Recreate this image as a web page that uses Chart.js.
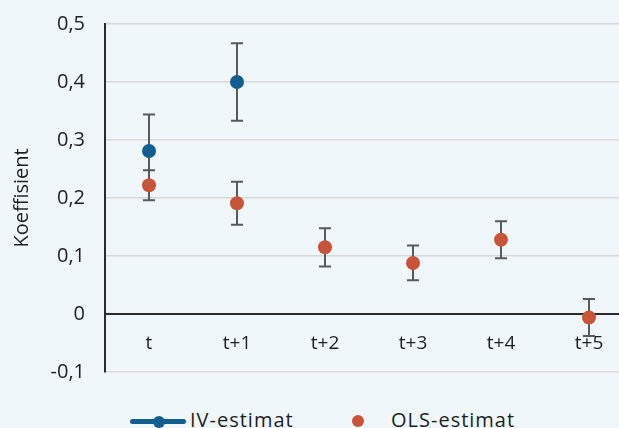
<!DOCTYPE html>
<html>
<head>
<meta charset="utf-8">
<script src="https://cdn.jsdelivr.net/npm/chart.js@4"></script>
<style>
  html, body { margin: 0; padding: 0; overflow: hidden; background: #f0f7fb; }
  #wrap { position: relative; width: 640px; height: 428px; }
  #chart-box { position: absolute; left: 0; top: -8px; width: 640px; height: 412px; }
  .legend { position: absolute; top: 406px; font: 20px "Open Sans", sans-serif; color: #1e1e1e; white-space: nowrap; letter-spacing: 1px; }
  .ico-line { position: absolute; left: 130px; top: 419px; width: 56px; height: 5px; background: #125e91; border-radius: 3px; }
  .ico-dot { position: absolute; width: 12px; height: 12px; border-radius: 50%; }
</style>
</head>
<body>
<div id="wrap">
  <div id="chart-box"><canvas id="c"></canvas></div>
  <div class="ico-line"></div>
  <div class="ico-dot" style="left:153px;top:416px;background:#125e91"></div>
  <span class="legend" style="left:190px">IV-estimat</span>
  <div class="ico-dot" style="left:352px;top:415px;background:#c8553a"></div>
  <span class="legend" style="left:391px">OLS-estimat</span>
</div>
<script>
/* ── Data ── */
const categories = ['t', 't+1', 't+2', 't+3', 't+4', 't+5'];
const ivValues   = [0.281, 0.400, null, null, null, null];
const ivErrors   = [0.063, 0.067, null, null, null, null];
const olsValues  = [0.222, 0.191, 0.115, 0.088, 0.128, -0.006];
const olsErrors  = [0.026, 0.037, 0.033, 0.030, 0.032, 0.032];
const yTicks     = [-0.1, 0, 0.1, 0.2, 0.3, 0.4, 0.5];

const BLUE   = '#125e91';
const ORANGE = '#c8553a';
const FONT   = '"Open Sans", sans-serif';

/* ── Error bars, drawn under the points ── */
const errorBars = {
  id: 'errorBars',
  beforeDatasetsDraw(chart) {
    const { ctx } = chart;
    const y = chart.scales.y;
    const errs = [ivErrors, olsErrors];
    ctx.save();
    ctx.strokeStyle = '#595959';
    ctx.lineWidth = 2;
    chart.data.datasets.forEach((ds, i) => {
      chart.getDatasetMeta(i).data.forEach((pt, j) => {
        const v = ds.data[j], e = errs[i][j];
        if (v == null || e == null) return;
        const top = y.getPixelForValue(v + e);
        const bot = y.getPixelForValue(v - e);
        ctx.beginPath();
        ctx.moveTo(pt.x, top); ctx.lineTo(pt.x, bot);
        ctx.moveTo(pt.x - 6, top); ctx.lineTo(pt.x + 6, top);
        ctx.moveTo(pt.x - 6, bot); ctx.lineTo(pt.x + 6, bot);
        ctx.stroke();
      });
    });
    ctx.restore();
  },
};

new Chart(document.getElementById('c'), {
  type: 'line',
  data: {
    labels: categories,
    datasets: [
      { label: 'IV-estimat', data: ivValues, showLine: false, pointRadius: 7, pointHoverRadius: 7,
        pointBackgroundColor: BLUE, pointBorderWidth: 0, borderColor: BLUE },
      { label: 'OLS-estimat', data: olsValues, showLine: false, pointRadius: 7, pointHoverRadius: 7,
        pointBackgroundColor: ORANGE, pointBorderWidth: 0, borderColor: ORANGE },
    ],
  },
  options: {
    responsive: true, maintainAspectRatio: false, animation: false,
    layout: { padding: { left: 0, top: 14, right: 7, bottom: 24 } },
    scales: {
      x: {
        position: { y: 0 },
        offset: true,
        grid: { display: false, drawTicks: false },
        border: { color: '#2b2b2b', width: 2 },
        ticks: { color: '#1e1e1e', padding: 18, font: { family: FONT, size: 19 } },
      },
      y: {
        min: -0.1, max: 0.5,
        afterFit: s => { s.width = 105; },
        afterBuildTicks: s => { s.ticks = yTicks.map(v => ({ value: v })); },
        grid: { color: '#d9d9d9', lineWidth: 1.5, drawTicks: false },
        border: { color: '#2b2b2b', width: 2 },
        ticks: {
          color: '#1e1e1e', padding: 20, font: { family: FONT, size: 20 },
          callback: v => String(Math.round(v * 10) / 10).replace('.', ','),
        },
        title: { display: true, text: 'Koeffisient', color: '#1e1e1e', padding: 10,
                 font: { family: FONT, size: 20 } },
      },
    },
    plugins: { legend: { display: false }, tooltip: { enabled: false } },
  },
  plugins: [errorBars],
});
</script>
</body>
</html>
